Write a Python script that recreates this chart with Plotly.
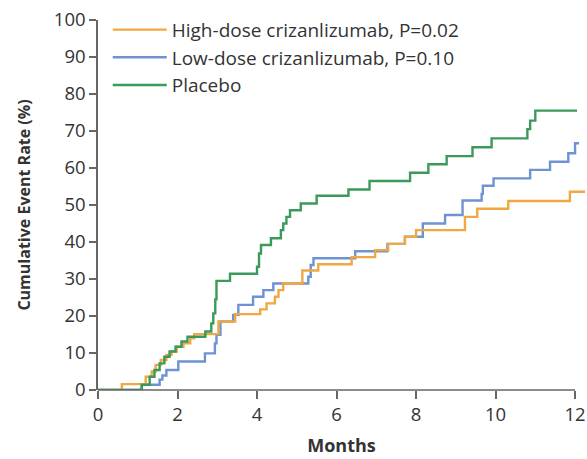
import plotly.graph_objects as go

# Months / cumulative event rate (%) step data
high_t = [0, 0.6, 1.2, 1.35, 1.45, 1.58, 1.72, 1.85, 1.98, 2.15, 2.32, 2.42, 3.03, 3.45, 4.08, 4.24, 4.45, 4.54, 4.66,
          5.14, 5.54, 6.38, 6.97, 7.3, 7.72, 8.0, 9.23, 9.54, 10.32, 11.87, 12.25]
high_v = [0, 1.6, 3.6, 5.0, 6.8, 8.1, 9.5, 10.4, 11.7, 12.6, 14.0, 15.1, 18.5, 20.5, 21.8, 23.4, 25.2, 27.0, 28.8,
          32.3, 34.0, 35.9, 37.8, 39.5, 41.4, 43.2, 46.8, 49.0, 51.1, 53.6, 53.6]

low_t = [0, 1.1, 1.55, 1.62, 1.72, 2.02, 2.69, 2.94, 2.98, 3.08, 3.4, 3.53, 3.9, 4.16, 4.41, 5.29, 5.35, 5.42,
         6.47, 7.28, 7.72, 8.17, 8.73, 9.17, 9.65, 9.68, 9.95, 10.87, 11.37, 11.83, 12.0, 12.1]
low_v = [0, 1.4, 2.8, 3.9, 5.4, 7.7, 9.9, 12.6, 14.9, 18.5, 20.3, 23.0, 25.2, 27.0, 28.8, 30.6, 33.8, 35.6,
         37.5, 39.5, 41.4, 45.0, 47.3, 51.2, 53.0, 55.2, 57.2, 59.5, 61.7, 64.0, 66.7, 66.7]

pla_t = [0, 1.1, 1.3, 1.42, 1.55, 1.67, 1.8, 1.95, 2.1, 2.25, 2.7, 2.85, 2.9, 2.95, 2.98, 3.32, 4.0, 4.05, 4.1,
         4.35, 4.6, 4.66, 4.74, 4.83, 5.1, 5.5, 6.3, 6.83, 7.85, 8.31, 8.77, 9.42, 9.9, 10.8, 10.87, 11.0, 12.05]
pla_v = [0, 1.4, 3.6, 5.4, 7.2, 9.0, 10.4, 11.7, 13.1, 14.4, 15.8, 18.0, 20.7, 24.5, 29.5, 31.4, 33.3, 36.9, 39.2,
         41.0, 43.2, 45.0, 46.8, 48.6, 50.4, 52.5, 54.2, 56.5, 58.7, 61.0, 63.2, 65.6, 68.0, 70.5, 72.8, 75.5, 75.5]

series_names = ["High-dose crizanlizumab, P=0.02", "Low-dose crizanlizumab, P=0.10", "Placebo"]
x_ticks = [0, 2, 4, 6, 8, 10, 12]
y_ticks = [0, 10, 20, 30, 40, 50, 60, 70, 80, 90, 100]

colors = ["#F0A843", "#6D93D3", "#3A9A5B"]
FONT = "Open Sans"

fig = go.Figure()
for t, v, name, c, rank in [(low_t, low_v, series_names[1], colors[1], 2),
                            (high_t, high_v, series_names[0], colors[0], 1),
                            (pla_t, pla_v, series_names[2], colors[2], 3)]:
    fig.add_trace(go.Scatter(x=t, y=v, mode="lines", name=name, legendrank=rank,
                             line=dict(color=c, width=2.4, shape="hv")))

fig.update_layout(
    width=587, height=459,
    margin=dict(l=98, r=2, t=20, b=69),
    paper_bgcolor="white", plot_bgcolor="white",
    font=dict(family=FONT, size=18, color="#333333"),
    showlegend=True,
    legend=dict(x=0.02, y=1.025, xanchor="left", yanchor="top", bgcolor="rgba(0,0,0,0)",
                font=dict(size=19, color="#333333"), itemwidth=54, tracegroupgap=0),
    xaxis=dict(range=[0, 12.25], tickvals=x_ticks, ticktext=[str(v) for v in x_ticks],
               ticks="outside", ticklen=8, tickwidth=1.5, tickcolor="#666666",
               tickfont=dict(size=18.5),
               showline=False, showgrid=False, zeroline=False,
               title=dict(text="<b>Months</b>", font=dict(size=18, color="#333333"), standoff=14)),
    yaxis=dict(range=[0, 100], tickvals=y_ticks, ticktext=[str(v) for v in y_ticks],
               ticks="outside", ticklen=7, tickwidth=1.5, tickcolor="#666666",
               tickfont=dict(size=18.5),
               showline=True, linecolor="#666666", linewidth=1.5, showgrid=False, zeroline=False,
               title=dict(text="<b>Cumulative Event Rate (%)</b>", font=dict(size=16, color="#333333"), standoff=19)),
)

# x axis line spanning 0..12 months
fig.add_shape(type="line", xref="x", yref="paper", x0=x_ticks[0], x1=x_ticks[-1], y0=0, y1=0,
              line=dict(color="#666666", width=1.5))

fig.write_html("out.html", config={"displayModeBar": False},
               post_script="document.body.style.margin='0';document.body.style.overflow='hidden';")
